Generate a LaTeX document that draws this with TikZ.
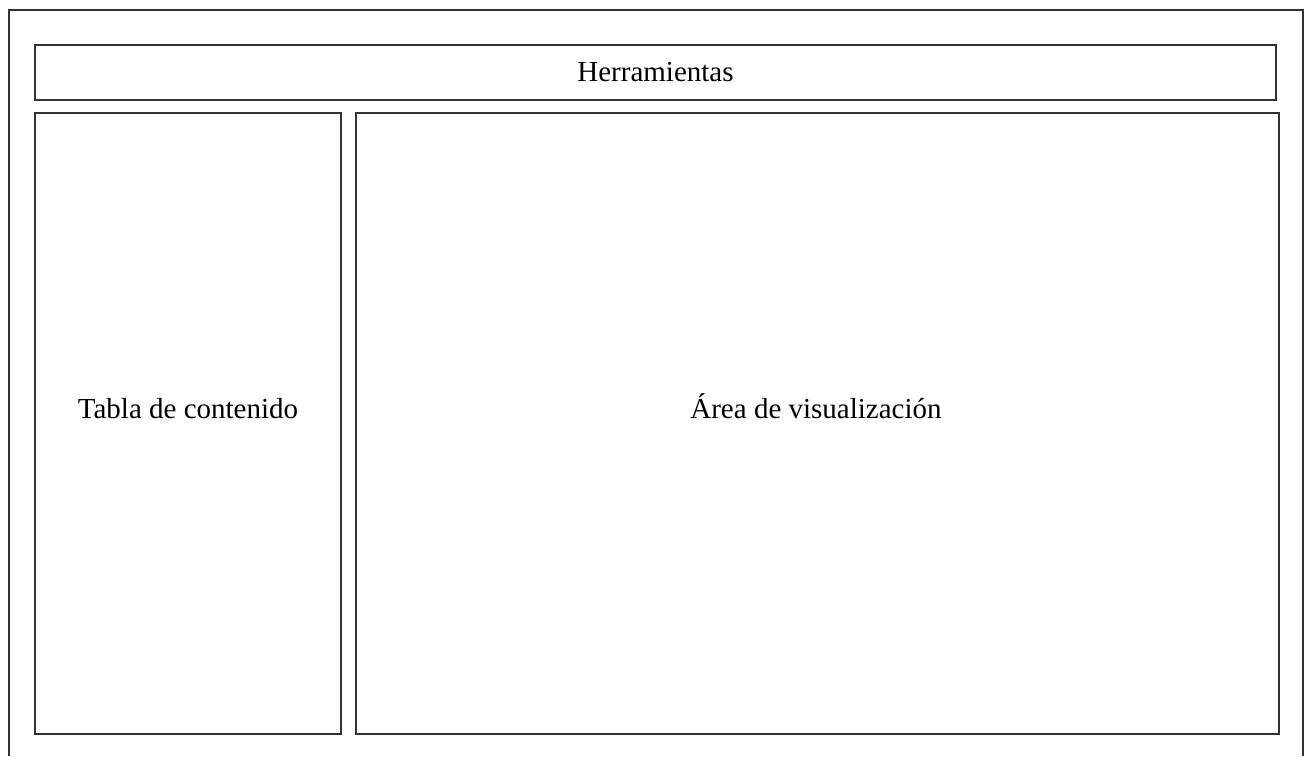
\documentclass[tikz,border=0pt]{standalone}
\usepackage{fontspec}
\setmainfont{Liberation Serif}
\begin{document}
\begin{tikzpicture}[x=1pt,y=-1pt,
  panel/.style={draw=black!80,line width=1.2pt,inner sep=0pt},
  lbl/.style={font=\fontsize{29}{34}\selectfont,anchor=base,inner sep=0pt}]
\useasboundingbox (0,0) rectangle (1305,756);
% outer frame (bottom edge lies below the picture)
\draw[black!80,line width=1.2pt] (9,756) -- (9,10) -- (1303,10) -- (1303,756);
% panels
\node[panel,minimum width=1241pt,minimum height=55pt] (tools) at (655.5,72.5) {};
\node[panel,minimum width=306pt,minimum height=621pt] (toc) at (188,423.5) {};
\node[panel,minimum width=923pt,minimum height=621pt] (view) at (817.5,423.5) {};
% labels
\node[lbl] (toolsl) at (655.5,81) {Herramientas};
\node[lbl] (tocl) at (188,418) {Tabla de contenido};
\node[lbl] (viewl) at (816,418) {Área de visualización};
\end{tikzpicture}
\end{document}
